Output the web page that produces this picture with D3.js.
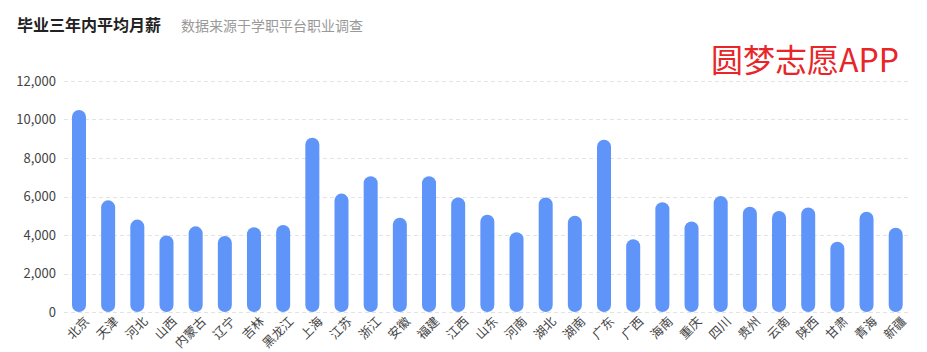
<!DOCTYPE html>
<html>
<head>
<meta charset="utf-8">
<title>毕业三年内平均月薪</title>
<style>
  body { margin: 0; background: #fff; }
  text { font-family: "Noto Sans CJK SC", "Noto Sans", sans-serif; }
</style>
</head>
<body>
<script src="https://cdn.jsdelivr.net/npm/d3@7/dist/d3.min.js"></script>
<script>
var provinces = ["北京","天津","河北","山西","内蒙古","辽宁","吉林","黑龙江","上海","江苏",
                 "浙江","安徽","福建","江西","山东","河南","湖北","湖南","广东","广西",
                 "海南","重庆","四川","贵州","云南","陕西","甘肃","青海","新疆"];
var salary = [10500, 5800, 4800, 3980, 4450, 3950, 4400, 4520, 9050, 6150,
              7050, 4900, 7050, 5950, 5050, 4140, 5950, 5000, 8950, 3780,
              5700, 4700, 6020, 5470, 5250, 5430, 3650, 5210, 4380];
var yTicks = [0, 2000, 4000, 6000, 8000, 10000, 12000];

var width = 927, height = 352;
var svg = d3.select("body").append("svg")
    .attr("width", width)
    .attr("height", height);

// 标题
svg.append("text")
    .attr("x", 17).attr("y", 31)
    .attr("font-size", 16).attr("font-weight", "bold").attr("fill", "#222")
    .text("毕业三年内平均月薪");
svg.append("text")
    .attr("x", 181).attr("y", 31)
    .attr("font-size", 14).attr("fill", "#999")
    .text("数据来源于学职平台职业调查");
svg.append("text")
    .attr("x", 711).attr("y", 72)
    .attr("font-size", 32).attr("fill", "#e8262a")
    .text("圆梦志愿APP");

var x = d3.scaleBand().domain(provinces).range([64.4, 910.3]).paddingInner(0.52).paddingOuter(0.26);
var y = d3.scaleLinear().domain([0, 12000]).range([312, 81]);

// 网格线
svg.append("g").selectAll("line")
    .data(yTicks)
    .join("line")
    .attr("x1", 64).attr("x2", 910)
    .attr("y1", d => Math.round(y(d)) + 0.5)
    .attr("y2", d => Math.round(y(d)) + 0.5)
    .attr("stroke", "#e3e3e3")
    .attr("stroke-dasharray", "4,3");

// y轴标签
svg.append("g").selectAll("text")
    .data(yTicks)
    .join("text")
    .attr("x", 56)
    .attr("y", d => y(d))
    .attr("dy", "0.35em")
    .attr("text-anchor", "end")
    .attr("font-size", 13)
    .attr("fill", "#444")
    .text(d => d3.format(",")(d));

// 柱子
var bw = x.bandwidth();
svg.append("g").selectAll("rect")
    .data(salary)
    .join("rect")
    .attr("x", (d, i) => x(provinces[i]))
    .attr("y", d => y(d))
    .attr("width", bw)
    .attr("height", d => y(0) - y(d))
    .attr("rx", bw / 2)
    .attr("fill", "#5f94f9");

// x轴标签
svg.append("g").selectAll("text")
    .data(provinces)
    .join("text")
    .attr("font-size", 12.5)
    .attr("fill", "#444")
    .attr("text-anchor", "end")
    .attr("transform", d => {
        var cx = x(d) + bw / 2 + 5;
        return "translate(" + cx + "," + 316 + ") rotate(-45)";
    })
    .attr("dy", "0.7em")
    .text(d => d);
</script>
</body>
</html>
